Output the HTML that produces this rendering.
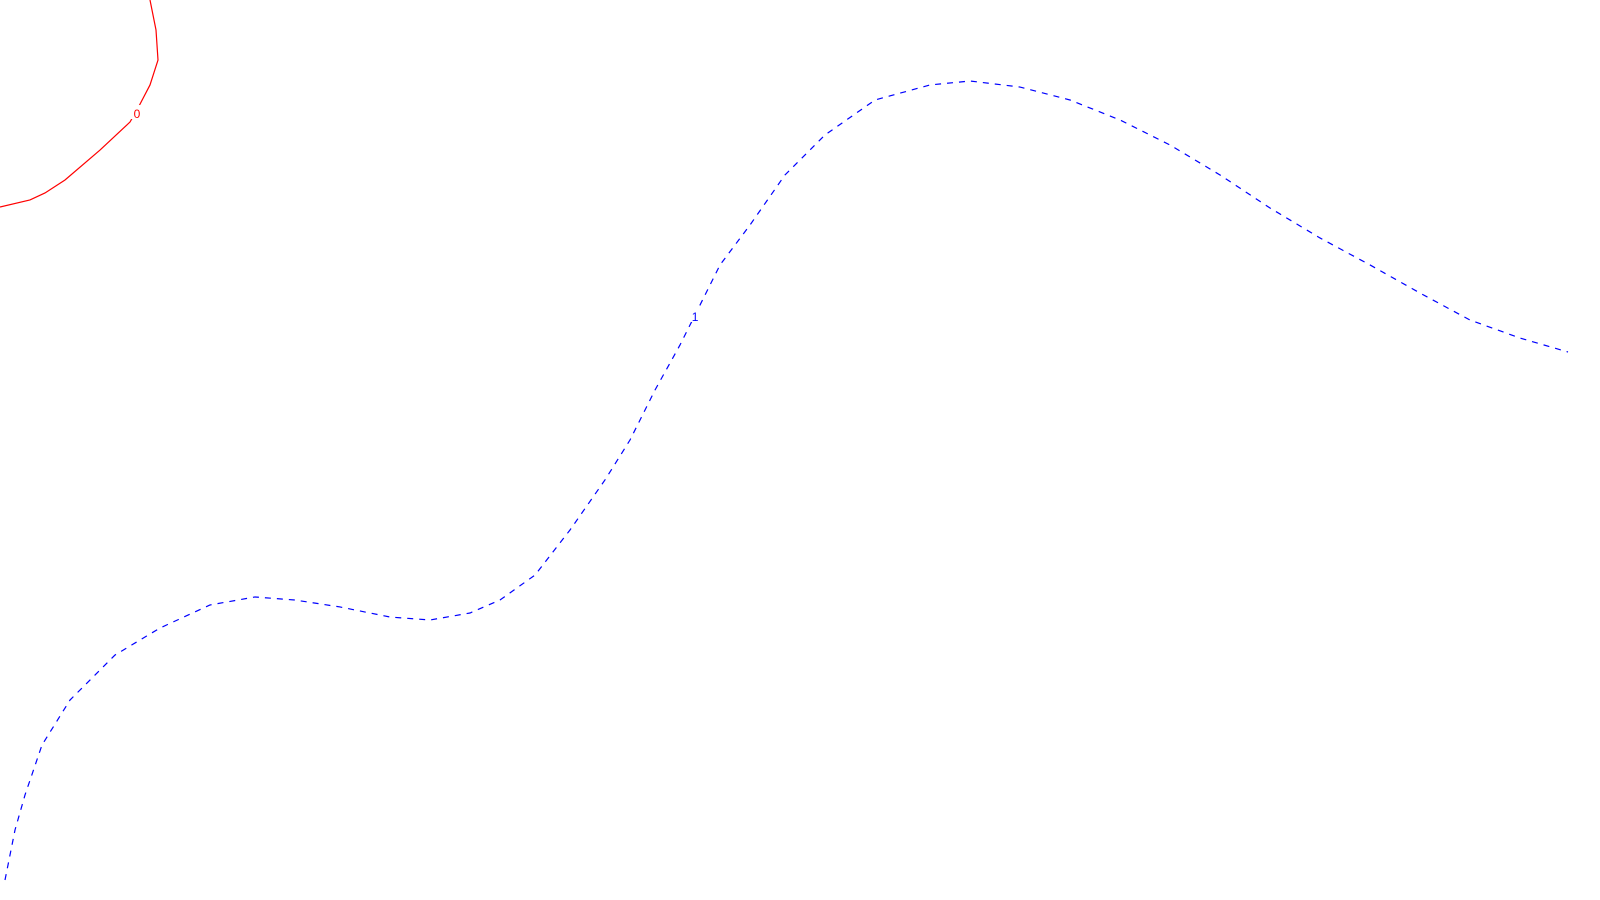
<!DOCTYPE html>
<html><head><meta charset="utf-8"><style>html,body{margin:0;padding:0;background:#fff;}svg{display:block}</style></head>
<body>
<svg id="chart" width="1600" height="900" xmlns="http://www.w3.org/2000/svg"></svg>
<script>
// contour level 0 (red solid), coordinates in data units (x: 0-100, y: 0-100)
const level0X = [9.375,9.75,9.875,9.375,8.625,8.125,6.25,4.0625,2.8125,1.875,0];
const level0Y = [100,96.67,93.33,90.56,88,86.44,83.33,80,78.56,77.78,77];
// contour level 1 (blue dashed)
const level1X = [0.3125,0.9375,1.5625,2.625,4.375,7.1875,10,13.125,15.94,18.44,21.25,24.375,26.875,29.375,31.25,33.44,35.625,37.81,39.375,40.94,42.5,43.44,45,46.875,49.06,51.56,54.69,58.125,60.625,63.75,66.875,70,73.125,76.25,79.375,82.5,85.625,88.75,91.875,95,98];
const level1Y = [2.22,7.78,11.67,17.22,22.22,27.22,30.22,32.78,33.67,33.33,32.56,31.44,31.11,31.89,33.33,36.11,41.11,46.67,51.11,56.67,61.67,65,70.56,75,80.56,85,88.89,90.56,91,90.33,88.89,86.67,83.89,80.56,76.89,73.56,70.56,67.44,64.44,62.44,60.89];
const levelLabels = ["0","1"];
const xScale = v => v * 16;
const yScale = v => 900 - v * 9;
const svg = document.getElementById('chart');
const NS = 'http://www.w3.org/2000/svg';
function draw(xs, ys, color, dash, name) {
  const p = document.createElementNS(NS, 'polyline');
  p.setAttribute('points', xs.map((x, i) => xScale(x) + ',' + yScale(ys[i])).join(' '));
  p.setAttribute('fill', 'none');
  p.setAttribute('stroke', color);
  p.setAttribute('stroke-width', '1.2');
  if (dash) p.setAttribute('stroke-dasharray', '6,6');
  
  
  svg.appendChild(p);
}
function label(x, y, txt, color, name) {
  const r = document.createElementNS(NS, 'rect');
  r.setAttribute('x', x - 6); r.setAttribute('y', y - 9);
  r.setAttribute('width', 12); r.setAttribute('height', 14);
  r.setAttribute('fill', '#fff');
  
  
  svg.appendChild(r);
  const t = document.createElementNS(NS, 'text');
  t.setAttribute('x', x); t.setAttribute('y', y + 4);
  t.setAttribute('text-anchor', 'middle');
  t.setAttribute('font-family', 'Liberation Sans, sans-serif');
  t.setAttribute('font-size', '12');
  t.setAttribute('fill', color);
  t.textContent = txt;
  
  
  svg.appendChild(t);
}
draw(level0X, level0Y, '#ff0000', false, 'contour-level-0');
draw(level1X, level1Y, '#0000ff', true, 'contour-level-1');
label(xScale(8.5625), yScale(87.33), levelLabels[0], '#ff0000', 'contour-label-0');
label(xScale(43.44), yScale(64.78), levelLabels[1], '#0000ff', 'contour-label-1');
</script>
</body></html>
